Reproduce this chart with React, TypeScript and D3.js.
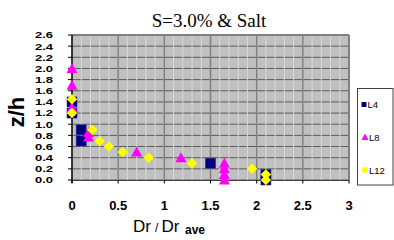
import React from "react";
import * as d3 from "d3";

const W = 394;
const H = 240;
const PLOT = { left: 72, right: 349, top: 35, bottom: 180 };

const X_TICKS = [0, 0.5, 1, 1.5, 2, 2.5, 3];
const X_TICK_LABELS = ["0", "0.5", "1", "1.5", "2", "2.5", "3"];
const Y_TICKS = [0, 0.2, 0.4, 0.6, 0.8, 1.0, 1.2, 1.4, 1.6, 1.8, 2.0, 2.2, 2.4, 2.6];
const X_MINOR = d3.range(0, 3.001, 0.1);

const L4_X = [0, 0, 0.1, 0.1, 1.5, 2.1, 2.1];
const L4_Y = [1.4, 1.2, 0.9, 0.7, 0.3, 0.1, 0.0];
const L8_X = [0, 0, 0, 0.18, 0.18, 0.7, 1.18, 1.65, 1.65, 1.65, 1.65];
const L8_Y = [2.0, 1.7, 1.3, 0.85, 0.77, 0.5, 0.4, 0.3, 0.2, 0.1, 0.0];
const L12_X = [0, 0, 0.22, 0.3, 0.4, 0.55, 0.83, 1.3, 1.95, 2.1, 2.1];
const L12_Y = [1.45, 1.2, 0.9, 0.7, 0.6, 0.5, 0.4, 0.3, 0.2, 0.1, 0.0];

const SERIES = ["L4", "L8", "L12"];
const COLORS = ["#000080", "#FF00FF", "#FFFF00"];

const SANS = "'Liberation Sans', Arial, sans-serif";

const App = () => {
  const x = d3.scaleLinear().domain([0, 3]).range([PLOT.left, PLOT.right]);
  const y = d3.scaleLinear().domain([0, 2.6]).range([PLOT.bottom, PLOT.top]);
  const color = d3.scaleOrdinal<string, string>().domain(SERIES).range(COLORS);

  const square = (cx: number, cy: number, s: number) =>
    `M${cx - s / 2},${cy - s / 2}h${s}v${s}h${-s}Z`;
  const triangle = (cx: number, cy: number, w: number, h: number) =>
    `M${cx},${cy - h * 0.55}L${cx + w / 2},${cy + h * 0.45}L${cx - w / 2},${cy + h * 0.45}Z`;
  const diamond = (cx: number, cy: number, s: number) =>
    `M${cx},${cy - s / 2}L${cx + s / 2},${cy}L${cx},${cy + s / 2}L${cx - s / 2},${cy}Z`;

  return (
    <svg
      width={W}
      height={H}
      style={{ position: "absolute", left: 0, top: 0, background: "#fff" }}
    >
      {/* title */}
      <text
        x={209}
        y={27}
        textAnchor="middle"
        fontFamily="'Liberation Serif', 'Times New Roman', serif"
        fontSize={19}
        fill="#000"
      >
        S=3.0% &amp; Salt
      </text>

      {/* plot area */}
      <rect
        x={PLOT.left}
        y={PLOT.top}
        width={PLOT.right - PLOT.left}
        height={PLOT.bottom - PLOT.top}
        fill="#C0C0C0"
      />
      {Y_TICKS.map((t) => (
        <line
          key={"h" + t}
          x1={PLOT.left}
          x2={PLOT.right}
          y1={y(t)}
          y2={y(t)}
          stroke="#5a5a5a"
          strokeWidth={1}
        />
      ))}
      {X_MINOR.map((t, i) => (
        <line
          key={"m" + i}
          x1={x(t)}
          x2={x(t)}
          y1={PLOT.top}
          y2={PLOT.bottom}
          stroke="#d6d6d6"
          strokeWidth={1}
        />
      ))}
      {X_TICKS.slice(1).map((t) => (
        <line
          key={"v" + t}
          x1={x(t)}
          x2={x(t)}
          y1={PLOT.top}
          y2={PLOT.bottom}
          stroke="#808080"
          strokeWidth={1.5}
        />
      ))}
      <line x1={PLOT.left} x2={PLOT.right} y1={PLOT.top} y2={PLOT.top} stroke="#808080" strokeWidth={2} />
      <line x1={PLOT.right} x2={PLOT.right} y1={PLOT.top} y2={PLOT.bottom} stroke="#808080" strokeWidth={2} />

      {/* axes */}
      <line x1={PLOT.left} x2={PLOT.right} y1={PLOT.bottom + 0.5} y2={PLOT.bottom + 0.5} stroke="#404040" strokeWidth={1} />
      <line x1={PLOT.left} x2={PLOT.left} y1={PLOT.top} y2={PLOT.bottom + 3} stroke="#000" strokeWidth={1.5} />
      {Y_TICKS.map((t) => (
        <g key={"yt" + t}>
          <line x1={PLOT.left - 4} x2={PLOT.left} y1={y(t)} y2={y(t)} stroke="#000" />
          <text
            transform={`translate(53,${y(t) + 3.4}) scale(1,0.74)`}
            textAnchor="end"
            fontFamily={SANS}
            fontWeight="bold"
            fontSize={13}
            fill="#000"
          >
            {t.toFixed(1)}
          </text>
        </g>
      ))}
      {X_TICKS.map((t, i) => (
        <g key={"xt" + t}>
          <line x1={x(t)} x2={x(t)} y1={PLOT.bottom} y2={PLOT.bottom + 3.5} stroke="#000" />
          <text
            x={x(t)}
            y={209.5}
            textAnchor="middle"
            fontFamily={SANS}
            fontWeight="bold"
            fontSize={13}
            fill="#000"
          >
            {X_TICK_LABELS[i]}
          </text>
        </g>
      ))}

      {/* axis titles */}
      <text
        transform="translate(24,112) rotate(-90)"
        textAnchor="middle"
        fontFamily={SANS}
        fontWeight="bold"
        fontSize={22}
        fill="#000"
      >
        z/h
      </text>
      <text x={133} y={232} fontFamily={SANS} fontSize={17} fill="#000">Dr</text>
      <text x={155} y={232} fontFamily={SANS} fontSize={12} fill="#000">/</text>
      <text x={161.5} y={232} fontFamily={SANS} fontSize={17} fill="#000">Dr</text>
      <text x={185} y={233.5} fontFamily={SANS} fontWeight="bold" fontSize={12} fill="#000">ave</text>

      {/* markers */}
      {L4_X.map((d, i) => (
        <path key={"a" + i} d={square(x(d), y(L4_Y[i]), 10)} fill={color("L4")} stroke="#1a1a90" strokeWidth={0.5} />
      ))}
      {L8_X.map((d, i) => (
        <path key={"b" + i} d={triangle(x(d), y(L8_Y[i]), 11, 10)} fill={color("L8")} />
      ))}
      {L12_X.map((d, i) => (
        <path key={"c" + i} d={diamond(x(d), y(L12_Y[i]), 10.5)} fill={color("L12")} />
      ))}

      {/* legend */}
      <rect x={357.5} y={88.5} width={35.5} height={96.5} fill="#fff" stroke="#404040" strokeWidth={1} />
      <path d={square(364, 104.5, 5)} fill={color("L4")} />
      <text x={367.5} y={108} fontFamily={SANS} fontSize={9.5} fill="#000">L4</text>
      <path d={triangle(365, 137, 7, 6.5)} fill={color("L8")} />
      <text x={369} y={140.5} fontFamily={SANS} fontSize={9.5} fill="#000">L8</text>
      <circle cx={365} cy={170} r={3} fill={color("L12")} />
      <text x={369} y={173.5} fontFamily={SANS} fontSize={9.5} fill="#000">L12</text>
    </svg>
  );
};

export default App;
